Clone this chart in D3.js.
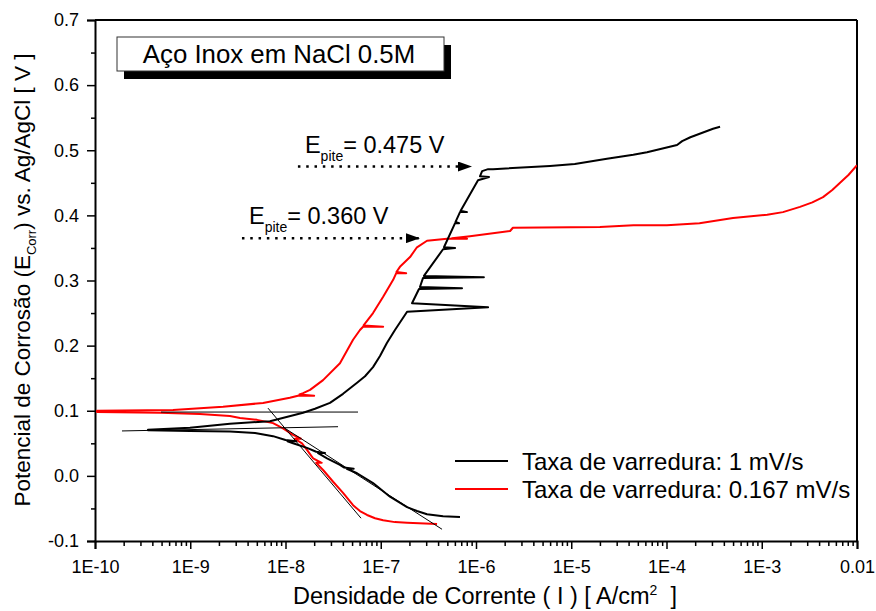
<!DOCTYPE html>
<html>
<head>
<meta charset="utf-8">
<script src="https://cdn.jsdelivr.net/npm/d3@7"></script>
<style>
  body { margin: 0; background: #fff; }
  svg text { font-family: "Liberation Sans", Arial, sans-serif; fill: #000; }
</style>
</head>
<body>
<svg id="chart" width="876" height="611"></svg>
<script>
// --- data: current density [A/cm2], potential [V]
// 1 mV/s, cathodic branch (right end -> Ecorr)
var blackCathI = [6.79e-7, 4.51e-7, 3.06e-7, 2.40e-7, 1.89e-7, 1.25e-7, 8.30e-8, 5.64e-8, 4.40e-8, 5.2e-8,
                  4.1e-8, 3.73e-8, 2.73e-8, 2.2e-8, 2.6e-8, 2.1e-8, 1.68e-8, 1.20e-8, 1.05e-8, 1.3e-8,
                  1.0e-8, 7.40e-9, 4.79e-9, 2.61e-9, 9.93e-10, 3.60e-10];
var blackCathE = [-0.063, -0.062, -0.059, -0.054, -0.048, -0.032, -0.011, 0.004, 0.011, 0.011,
                  0.013, 0.017, 0.027, 0.035, 0.035, 0.037, 0.043, 0.050, 0.053, 0.053,
                  0.055, 0.061, 0.066, 0.068, 0.069, 0.070];
// 1 mV/s, anodic branch
var blackAnodI = [3.60e-10, 9.93e-10, 2.61e-9, 6.87e-9, 1.53e-8, 2.04e-8, 2.93e-8, 4.02e-8, 5.64e-8, 6.84e-8,
                  8.30e-8, 9.82e-8, 1.16e-7, 1.41e-7, 1.89e-7, 1.34e-6, 2.13e-7, 2.52e-7, 7.13e-7, 2.58e-7,
                  2.78e-7, 1.21e-6, 2.84e-7, 4.51e-7, 6.03e-7, 4.61e-7, 6.03e-7, 6.64e-7, 6.10e-7, 6.79e-7,
                  8.05e-7, 6.90e-7, 1.05e-6, 1.37e-6, 1.10e-6, 1.16e-6, 1.34e-6, 1.51e-6, 5.98e-6, 1.09e-5,
                  2.37e-5, 4.48e-5, 6.24e-5, 1.29e-4, 1.46e-4, 1.78e-4, 3.08e-4, 3.65e-4];
var blackAnodE = [0.071, 0.074, 0.080, 0.084, 0.097, 0.103, 0.112, 0.126, 0.143, 0.153,
                  0.167, 0.184, 0.204, 0.224, 0.252, 0.259, 0.265, 0.287, 0.288, 0.290,
                  0.304, 0.305, 0.307, 0.348, 0.350, 0.351, 0.388, 0.388, 0.390, 0.405,
                  0.405, 0.407, 0.454, 0.459, 0.460, 0.468, 0.471, 0.471, 0.476, 0.479,
                  0.487, 0.493, 0.497, 0.508, 0.514, 0.520, 0.533, 0.536];
// 0.167 mV/s, cathodic branch
var redCathI = [3.90e-7, 1.89e-7, 1.41e-7, 1.06e-7, 8.71e-8, 7.18e-8, 6.05e-8, 5.12e-8, 4.02e-8, 3.16e-8,
                2.48e-8, 2.1e-8, 2.4e-8, 1.95e-8, 1.68e-8, 1.49e-8, 1.25e-8, 1.45e-8, 1.20e-8, 9.42e-9,
                7.40e-9, 5.02e-9, 3.33e-9, 2.61e-9, 1.26e-9, 4.81e-10, 1.05e-10];
var redCathE = [-0.074, -0.072, -0.071, -0.068, -0.065, -0.060, -0.054, -0.045, -0.026, -0.009,
                0.009, 0.020, 0.020, 0.027, 0.040, 0.050, 0.057, 0.057, 0.063, 0.073,
                0.081, 0.086, 0.089, 0.092, 0.095, 0.097, 0.098];
// 0.167 mV/s, anodic branch
var redAnodI = [1.05e-10, 6.59e-10, 2.21e-9, 5.81e-9, 1.11e-8, 1.35e-8, 2.0e-8, 1.4e-8, 1.53e-8, 1.81e-8,
                2.48e-8, 3.73e-8, 5.12e-8, 6.05e-8, 6.52e-8, 1.06e-7, 6.60e-8, 8.30e-8, 1.06e-7, 1.35e-7,
                1.45e-7, 1.85e-7, 1.46e-7, 1.59e-7, 2.03e-7, 2.40e-7, 3.06e-7, 4.97e-7, 8.05e-7, 5.60e-7,
                8.65e-7, 2.28e-6, 2.44e-6, 2.00e-5, 4.50e-5, 1.01e-4, 2.22e-4, 4.99e-4, 1.14e-3, 1.67e-3,
                2.52e-3, 3.40e-3, 4.40e-3, 5.50e-3, 6.64e-3, 8.13e-3, 1.00e-2];
var redAnodE = [0.100, 0.101, 0.106, 0.112, 0.120, 0.123, 0.123, 0.125, 0.127, 0.132,
                0.147, 0.173, 0.209, 0.224, 0.229, 0.229, 0.231, 0.250, 0.275, 0.301,
                0.311, 0.311, 0.313, 0.321, 0.336, 0.351, 0.361, 0.364, 0.364, 0.365,
                0.368, 0.376, 0.381, 0.382, 0.385, 0.385, 0.388, 0.396, 0.401, 0.405,
                0.413, 0.420, 0.428, 0.439, 0.450, 0.462, 0.477];
// Tafel extrapolation lines: [I1, E1, I2, E2]
var tafelLines = [
  [1.92e-10, 0.069, 3.56e-8, 0.0755],
  [4.93e-10, 0.098, 5.77e-8, 0.098],
  [6.55e-9, 0.104, 6.21e-8, -0.065],
  [9.42e-9, 0.075, 4.40e-7, -0.082]
];
var seriesNames = ["Taxa de varredura: 1 mV/s", "Taxa de varredura: 0.167 mV/s"];
var seriesColors = ["#000000", "#ff0000"];
// pitting potential annotations
var pitE = [0.475, 0.365];
var pitLabels = ["= 0.475 V", "= 0.360 V"];
var pitArrowFrom = [1.35e-8, 3.49e-9];
var pitArrowTo = [9.08e-7, 2.58e-7];

var xTicks = [1e-10, 1e-9, 1e-8, 1e-7, 1e-6, 1e-5, 1e-4, 1e-3, 1e-2];
var xTickLabels = ["1E-10", "1E-9", "1E-8", "1E-7", "1E-6", "1E-5", "1E-4", "1E-3", "0.01"];
var yTicks = [-0.1, 0.0, 0.1, 0.2, 0.3, 0.4, 0.5, 0.6, 0.7];

var margin = { top: 20, right: 19, bottom: 70, left: 95 },
    width = 876 - margin.left - margin.right,
    height = 611 - margin.top - margin.bottom;

var svg = d3.select("#chart");

var x = d3.scaleLog().domain([1e-10, 1e-2]).range([margin.left, margin.left + width]);
var y = d3.scaleLinear().domain([-0.1, 0.7]).range([margin.top + height, margin.top]);

svg.append("defs").append("clipPath").attr("id", "plotClip")
  .append("rect")
    .attr("x", margin.left).attr("y", margin.top)
    .attr("width", width).attr("height", height);

var marker = svg.select("defs").append("marker")
  .attr("id", "arrowHead")
  .attr("viewBox", "0 0 14 10")
  .attr("refX", 14).attr("refY", 5)
  .attr("markerWidth", 14).attr("markerHeight", 10)
  .attr("markerUnits", "userSpaceOnUse")
  .attr("orient", "auto");
marker.append("path").attr("d", "M0,0L14,5L0,10Z").attr("fill", "#000");

// frame (top and right)
svg.append("line")
  .attr("x1", margin.left).attr("x2", margin.left + width)
  .attr("y1", margin.top).attr("y2", margin.top)
  .attr("stroke", "#000").attr("stroke-width", 2);
svg.append("line")
  .attr("x1", margin.left + width).attr("x2", margin.left + width)
  .attr("y1", margin.top).attr("y2", margin.top + height)
  .attr("stroke", "#000").attr("stroke-width", 2);

// y axis
svg.append("g")
  .attr("transform", "translate(" + margin.left + ",0)")
  .call(d3.axisLeft(y).tickValues(yTicks).tickSize(8).tickPadding(8)
    .tickFormat(function(d) { return d.toFixed(1); }));

var yMinor = [];
yTicks.forEach(function(t, i) { if (i < yTicks.length - 1) yMinor.push(t + 0.05); });
svg.append("g")
  .attr("transform", "translate(" + margin.left + ",0)")
  .call(d3.axisLeft(y).tickValues(yMinor).tickSize(4).tickFormat(""))
  .call(g => g.select(".domain").remove());

// x axis
svg.append("g")
  .attr("transform", "translate(0," + (margin.top + height) + ")")
  .call(d3.axisBottom(x).tickValues(xTicks).tickSize(8).tickPadding(11)
    .tickFormat(function(d, i) { return xTickLabels[i]; }));

var xMinor = [];
xTicks.forEach(function(t, i) {
  if (i < xTicks.length - 1) for (var k = 2; k <= 9; k++) xMinor.push(t * k);
});
svg.append("g")
  .attr("transform", "translate(0," + (margin.top + height) + ")")
  .call(d3.axisBottom(x).tickValues(xMinor).tickSize(5).tickFormat(""))
  .call(g => g.select(".domain").remove());

svg.selectAll(".domain").attr("stroke-width", 2).attr("stroke", "#000");
svg.selectAll(".tick line").attr("stroke-width", 1.5).attr("stroke", "#000");
svg.selectAll(".tick text").attr("font-size", 18).attr("font-family", "Liberation Sans, Arial, sans-serif");

// axis titles
svg.append("text")
  .attr("x", 485)
  .attr("y", 604)
  .attr("text-anchor", "middle")
  .attr("font-size", 23.5)
  .html('Densidade de Corrente ( I ) [ A/cm<tspan dy="-9" font-size="14">2</tspan><tspan dy="9">&#160; ]</tspan>');

svg.append("text")
  .attr("transform", "translate(30,280) rotate(-90)")
  .attr("text-anchor", "middle")
  .attr("font-size", 22.5)
  .html('Potencial de Corrosão (E<tspan dy="6" font-size="13">Corr</tspan><tspan dy="-6">) vs. Ag/AgCl [ V ]</tspan>');

// curves
var line = d3.line()
  .x(function(d) { return x(d[0]); })
  .y(function(d) { return y(d[1]); });

var plot = svg.append("g").attr("clip-path", "url(#plotClip)");

var redData = d3.zip(redCathI, redCathE).concat(d3.zip(redAnodI, redAnodE));
var blackData = d3.zip(blackCathI, blackCathE).concat(d3.zip(blackAnodI, blackAnodE));

plot.append("path")
  .datum(redData)
  .attr("fill", "none")
  .attr("stroke", seriesColors[1])
  .attr("stroke-width", 2)
  .attr("stroke-linejoin", "round")
  .attr("d", line);

plot.append("path")
  .datum(blackData)
  .attr("fill", "none")
  .attr("stroke", seriesColors[0])
  .attr("stroke-width", 2)
  .attr("stroke-linejoin", "round")
  .attr("d", line);

plot.selectAll(".tafel")
  .data(tafelLines)
  .enter().append("line")
    .attr("class", "tafel")
    .attr("x1", d => x(d[0])).attr("y1", d => y(d[1]))
    .attr("x2", d => x(d[2])).attr("y2", d => y(d[3]))
    .attr("stroke", "#000")
    .attr("stroke-width", 1);

// pitting potential arrows + labels
pitE.forEach(function(e, i) {
  svg.append("line")
    .attr("x1", x(pitArrowFrom[i])).attr("y1", y(e))
    .attr("x2", x(pitArrowTo[i])).attr("y2", y(e))
    .attr("stroke", "#000")
    .attr("stroke-width", 2.5)
    .attr("stroke-dasharray", "2.5,5.8")
    .attr("marker-end", "url(#arrowHead)");

  var t = svg.append("text")
    .attr("x", x(pitArrowFrom[i]) + 7)
    .attr("y", y(e) - 14)
    .attr("font-size", 23.5);
  t.append("tspan").text("E");
  t.append("tspan").attr("dy", 8).attr("font-size", 14).text("pite");
  t.append("tspan").attr("dy", -8).text(pitLabels[i]);
});

// title box with shadow
svg.append("rect")
  .attr("x", 124).attr("y", 45).attr("width", 327).attr("height", 34)
  .attr("fill", "#000");
svg.append("rect")
  .attr("x", 117).attr("y", 37).attr("width", 327).attr("height", 34)
  .attr("fill", "#fff").attr("stroke", "#333").attr("stroke-width", 1);
svg.append("text")
  .attr("x", 279).attr("y", 63)
  .attr("text-anchor", "middle")
  .attr("font-size", 25.8)
  .text("Aço Inox em NaCl 0.5M");

// legend
var legend = svg.append("g").attr("transform", "translate(455,461)");
seriesNames.forEach(function(name, i) {
  legend.append("line")
    .attr("x1", 0).attr("x2", 53)
    .attr("y1", i * 28).attr("y2", i * 28)
    .attr("stroke", seriesColors[i]).attr("stroke-width", 2);
  legend.append("text")
    .attr("x", 67).attr("y", i * 28 + 9)
    .attr("font-size", 24)
    .text(name);
});
</script>
</body>
</html>
